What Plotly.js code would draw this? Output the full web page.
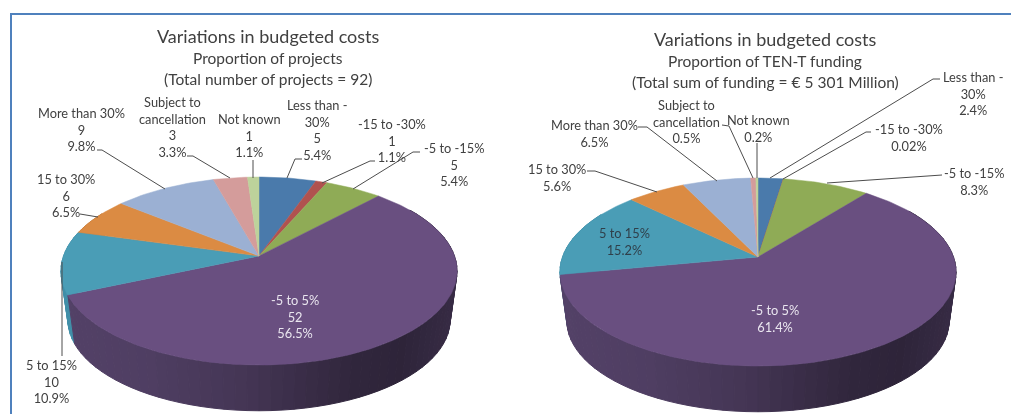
<!DOCTYPE html>
<html><head><meta charset="utf-8">
<script src="https://cdn.plot.ly/plotly-3.0.1.min.js"></script>
<style>html,body{margin:0;padding:0;background:#fff;overflow:hidden}#c{width:1011px;height:414px;filter:blur(0.45px)}</style>
</head><body><div id="c"></div>
<script>
// ---- data ----
const categories = ["Less than -30%","-15 to -30%","-5 to -15%","-5 to 5%","5 to 15%","15 to 30%","More than 30%","Subject to cancellation","Not known"];
const projectCounts = [5,1,5,52,10,6,9,3,1];
const projectShares = ["5.4%","1.1%","5.4%","56.5%","10.9%","6.5%","9.8%","3.3%","1.1%"];
const fundingValues = [2.4,0.02,8.3,61.4,15.2,5.6,6.5,0.5,0.2];
const fundingShares = ["2.4%","0.02%","8.3%","61.4%","15.2%","5.6%","6.5%","0.5%","0.2%"];
const labelNames = ["Less than -<br>30%","-15 to -30%","-5 to -15%","-5 to 5%","5 to 15%","15 to 30%","More than 30%","Subject to<br>cancellation","Not known"];
const sliceColors = ["#4a7aab","#b0524f","#8fab56","#694f80","#4a9db6","#db8b43","#9bb0d3","#d49c9b","#bdd29b"];
const wallColors = ["#3a6088","#8c403e","#71884a","#4a3a5c","#3a8096","#ae6e34","#7b8ca8","#a87c7b","#96a77b"];

// ---- placement (pixel-scaled axes) ----
const leftPie = {cx:259, cy:256};
const rightPie = {cx:758, cy:257};
const leftLabelPos = [[317,130],[392,140],[454,164],[295,316],[51,381],[66,195],[81,129],[172,127],[249,135]];
const rightLabelPos = [[973,93],[909,137],[974,181],[775,318],[624,241],[557,177],[594,133],[686,121],[758,128]];
const leftLeaders = [
 [[302,159],[295,159],[287,178]],[[375,161],[370,161],[322,183]],[[420,152],[413,152],[353,189]],
 [[62,262],[62,356]],[[80,214],[88,215],[98,217]],[[97,150],[102,150],[165,189]],
 [[187,156],[193,156],[230,178]],[[253,160],[253,178]]];
const rightLeaders = [
 [[940,79],[933,79],[770,178]],[[871,132],[866,132],[783,179]],[[942,175],[827,183]],
 [[587,171],[595,171],[657,192]],[[638,127],[647,127],[717,181]],
 [[722,125],[729,126],[753,178]],[[757,143],[757,178]]];
const K=0.16, A=195.5, B=91.6, WALL_SCALE=0.965, WALL_DROP=49, ELL_OFFSET=15;

function rim(p,deg){
  const t=deg*Math.PI/180, X=Math.sin(t), Y=Math.cos(t), w=1+K*Y;
  return [p.cx+A*X/w, p.cy-B*Y/w];
}
function low(p,q){
  return [p.cx+WALL_SCALE*(q[0]-p.cx), p.cy+ELL_OFFSET+WALL_DROP+WALL_SCALE*(q[1]-p.cy-ELL_OFFSET)];
}
const hex=c=>[1,3,5].map(i=>parseInt(c.substr(i,2),16));
const wallStops=[[0,1.12],[0.2,1.07],[0.45,0.92],[0.72,0.66],[0.85,0.62],[1,0.74]];
function shade(c,f){ // darkens toward the right side of the wall
  let a=wallStops[0],b=wallStops[wallStops.length-1];
  for(let i=0;i<wallStops.length-1;i++) if(f>=wallStops[i][0]&&f<=wallStops[i+1][0]){a=wallStops[i];b=wallStops[i+1];break;}
  const m=a[1]+(b[1]-a[1])*(f-a[0])/(b[0]-a[0]||1);
  const r=hex(c).map(v=>Math.min(255,Math.round(v*m)));
  return `rgb(${r.join(",")})`;
}
const traces=[];
function drawPie(p,vals){
  const tot=vals.reduce((s,v)=>s+v,0);
  let edges=[0]; vals.forEach(v=>edges.push(edges[edges.length-1]+v/tot*360));
  const sliceAt=d=>{for(let i=0;i<vals.length;i++) if(d<edges[i+1]) return i; return vals.length-1;};
  // wall
  const step=3;
  for(let d=300;d>=60;d-=step){
    const q1=rim(p,d),q2=rim(p,d-step),l1=low(p,q1),l2=low(p,q2);
    const f=(q1[0]-(p.cx-198))/396;
    const col=shade(wallColors[sliceAt(d-step/2)],f);
    traces.push({type:"scatter",mode:"lines",x:[q1[0],q2[0],l2[0],l1[0],q1[0]],y:[q1[1],q2[1],l2[1],l1[1],q1[1]],
      fill:"toself",fillcolor:col,line:{color:col,width:1},hoverinfo:"skip",showlegend:false});
  }
  // top face
  vals.forEach((v,i)=>{
    const xs=[p.cx],ys=[p.cy];
    const n=Math.max(2,Math.ceil(edges[i+1]-edges[i]));
    for(let k=0;k<=n;k++){const q=rim(p,edges[i]+(edges[i+1]-edges[i])*k/n);xs.push(q[0]);ys.push(q[1]);}
    xs.push(p.cx);ys.push(p.cy);
    traces.push({type:"scatter",mode:"lines",x:xs,y:ys,fill:"toself",fillcolor:sliceColors[i],
      line:{color:sliceColors[i],width:0.5},name:categories[i],hoverinfo:"skip",showlegend:false});
  });
}
drawPie(leftPie,projectCounts);
drawPie(rightPie,fundingValues);
leftLeaders.concat(rightLeaders).forEach(l=>{
  traces.push({type:"scatter",mode:"lines",x:l.map(q=>q[0]),y:l.map(q=>q[1]),line:{color:"#4d4d4d",width:1},hoverinfo:"skip",showlegend:false});
});

const FONT="Lato, 'Open Sans', sans-serif";
const ann=[];
function note(x,y,text,size,color){ann.push({x,y,xref:"x",yref:"y",text,showarrow:false,xanchor:"center",yanchor:"middle",align:"center",
  font:{family:FONT,size:size,color:color}});}
categories.forEach((c,i)=>{
  const col=i===3?"#eae6ef":(i===4?"#2f3f4a":"#404040");
  note(leftLabelPos[i][0],leftLabelPos[i][1],labelNames[i]+"<br>"+projectCounts[i]+"<br>"+projectShares[i],12.8,i===4?"#404040":col);
  note(rightLabelPos[i][0],rightLabelPos[i][1],labelNames[i]+"<br>"+fundingShares[i],12.8,col);
});
note(268,36,"Variations in budgeted costs",18,"#404040");
note(268,58,"Proportion of projects",15.5,"#404040");
note(268,79,"(Total number of projects = 92)",15.5,"#404040");
note(765,39,"Variations in budgeted costs",18,"#404040");
note(765,61,"Proportion of TEN-T funding",15.5,"#404040");
note(765,82,"(Total sum of funding = € 5 301 Million)",15.5,"#404040");

const layout={width:1011,height:414,margin:{l:0,r:0,t:0,b:0},paper_bgcolor:"#fff",plot_bgcolor:"#fff",showlegend:false,
  xaxis:{range:[0,1011],visible:false,fixedrange:true},yaxis:{range:[414,0],visible:false,fixedrange:true},
  annotations:ann,
  shapes:[{type:"line",xref:"x",yref:"y",x0:11,x1:11,y0:14,y1:414,line:{color:"#4f81bd",width:2}},
          {type:"line",xref:"x",yref:"y",x0:10,x1:1011,y0:14,y1:14,line:{color:"#4f81bd",width:2}}]};
Plotly.newPlot("c",traces,layout,{displayModeBar:false,staticPlot:true});
</script></body></html>
